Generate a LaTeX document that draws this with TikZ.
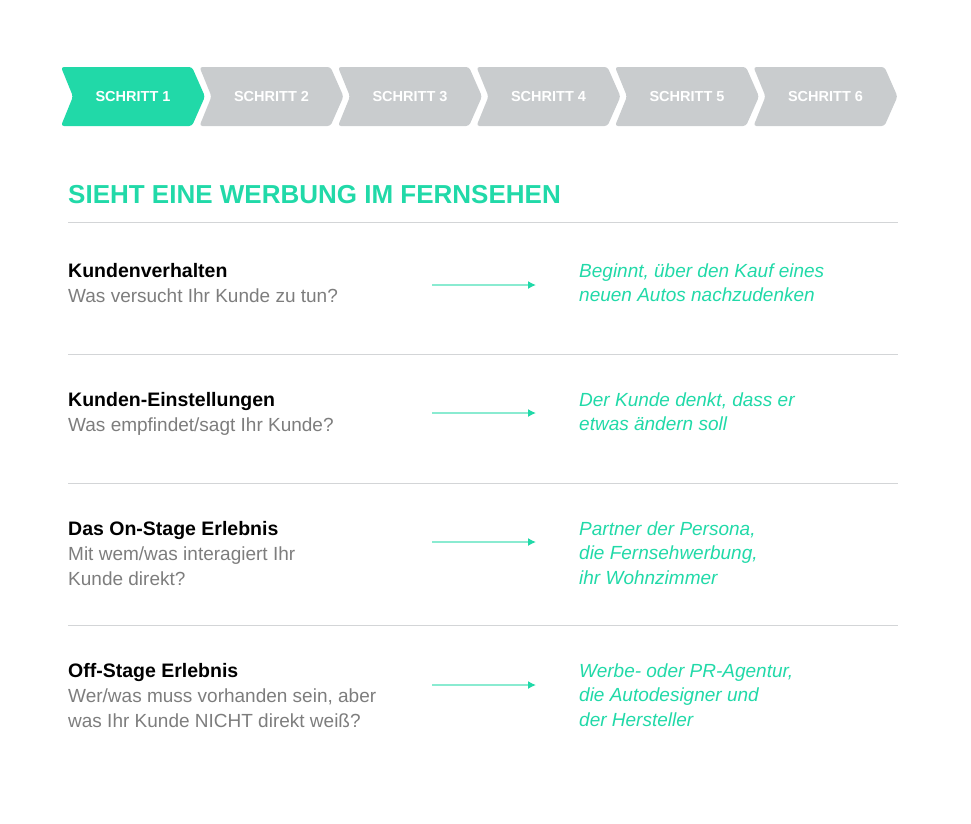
\documentclass[tikz,border=0pt]{standalone}
\usepackage{fontspec}
\setmainfont{Liberation Sans}
\usetikzlibrary{positioning,arrows.meta}
\definecolor{mint}{HTML}{21D9A8}
\definecolor{mintlight}{HTML}{8AEBD1}
\definecolor{chevgray}{HTML}{C9CCCE}
\definecolor{rulegray}{HTML}{D3D5D7}
\definecolor{textgray}{HTML}{7D7D7D}

\begin{document}
\begin{tikzpicture}[x=1pt, y=-1pt,
  steplabel/.style={font=\fontsize{14.5}{16}\selectfont\bfseries, text=white, inner sep=0pt},
  title/.style={anchor=base west, font=\fontsize{26}{30}\selectfont\bfseries, text=mint, inner sep=0pt},
  head/.style={anchor=base west, font=\fontsize{19.5}{24}\selectfont\bfseries, inner sep=0pt},
  ask/.style={anchor=base west, align=left, font=\fontsize{19}{24.5}\selectfont, text=textgray, inner sep=0pt},
  answer/.style={anchor=base west, align=left, font=\fontsize{19}{24.5}\selectfont\itshape, text=mint, inner sep=0pt},
  sep/.style={rulegray, line width=1pt},
  arrow/.style={-{Latex[length=8pt,width=8pt,color=mint]}, mintlight, line width=1.4pt}
]
\useasboundingbox (0,0) rectangle (971,823);

% step chevrons
\foreach \i in {1,...,6} {
  \pgfmathsetmacro{\xo}{61+138.5*(\i-1)}
  \ifnum\i=1 \def\chevfill{mint}\else\def\chevfill{chevgray}\fi
  \fill[\chevfill, rounded corners=3pt] (\xo,67) -- (\xo+131,67) -- (\xo+144,96.5) -- (\xo+131,126) -- (\xo,126) -- (\xo+12,96.5) -- cycle;
  \node[steplabel] (step\i) at (\xo+72,96.5) {SCHRITT \i};
}

\node[title] (title) at (68,203) {SIEHT EINE WERBUNG IM FERNSEHEN};

% separators
\foreach \y in {222,354,483,625}
  \draw[sep] (68,\y) -- (898,\y);

% rows (multi-line nodes sit on their last baseline)
\node[head] (head1) at (68,277) {Kundenverhalten};
\node[ask] (ask1) at (68,302.5) {Was versucht Ihr Kunde zu tun?};
\node[answer] (ans1) at (579,301.5) {Beginnt, über den Kauf eines\\neuen Autos nachzudenken};

\node[head] (head2) at (68,406) {Kunden-Einstellungen};
\node[ask] (ask2) at (68,431.5) {Was empfindet/sagt Ihr Kunde?};
\node[answer] (ans2) at (579,430.5) {Der Kunde denkt, dass er\\etwas ändern soll};

\node[head] (head3) at (68,535) {Das On-Stage Erlebnis};
\node[ask] (ask3) at (68,585) {Mit wem/was interagiert Ihr\\Kunde direkt?};
\node[answer] (ans3) at (579,584) {Partner der Persona,\\die Fernsehwerbung,\\ihr Wohnzimmer};

\node[head] (head4) at (68,677) {Off-Stage Erlebnis};
\node[ask] (ask4) at (68,727) {Wer/was muss vorhanden sein, aber\\was Ihr Kunde NICHT direkt weiß?};
\node[answer] (ans4) at (579,726) {Werbe- oder PR-Agentur,\\die Autodesigner und\\der Hersteller};

% arrows
\foreach \r/\y in {1/285,2/413,3/542,4/685} {
  \coordinate (from\r) at (432,\y);
  \coordinate (to\r) at (536,\y);
  \draw[arrow] (from\r) -- (to\r);
}
\end{tikzpicture}
\end{document}
